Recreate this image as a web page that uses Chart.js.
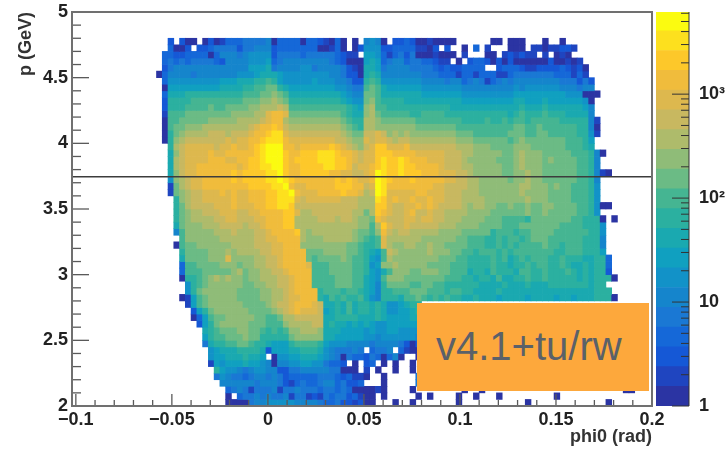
<!DOCTYPE html>
<html>
<head>
<meta charset="utf-8">
<title>p vs phi0</title>
<script src="https://cdn.jsdelivr.net/npm/chart.js@4/dist/chart.umd.min.js"></script>
<style>
    body { margin: 0; background: #fff; }
    #wrap { position: relative; width: 726px; height: 449px; overflow: hidden; }
    #heat { position: absolute; left: 0; top: 0; }
    #bar { position: absolute; left: 656px; top: 0; }
    #tag {
        position: absolute; left: 417px; top: 303px; width: 232px; height: 88px;
        background: #fda83c; color: #5b6169;
        font: 40px "Liberation Sans", Arial, sans-serif; line-height: 86px;
        padding-left: 19px; box-sizing: border-box;
    }
</style>
</head>
<body>
<div id="wrap">
    <canvas id="heat" width="726" height="449"></canvas>
    <canvas id="bar" width="70" height="449"></canvas>
    <div id="tag">v4.1+tu/rw</div>
</div>
<script>
// histogram binning
const phiStart = -0.07;
const phiStep = 0.003;
const pTopRow = 4.75;
const pStep = 0.05;

// colour band of every cell, top row first, 10 columns per group, '.' = empty bin
const heatRows = [
    "......2.20 0.02013334 4445033330 3321030.0. 5650.22320 010000.... ..00.000.. .0..0.....",
    "......3002 .223444424 4555233333 3300130.02 6662233331 102.2..0.3 .1...000.1 1011221...",
    ".....33223 3330355545 6666244443 444443211. 7763134240 001000.1.. .00.121211 .1.010....",
    ".....34343 4444325555 6667345555 5555432000 7873455344 33211.0.23 3202020000 00200101..",
    ".....24555 5555555555 7778455556 6455554210 8874555544 4432322333 3..2333211 222232120.",
    "....035555 4555555566 6788876666 6666554220 8985555555 4443331331 3331134444 444333131.",
    ".....36666 6666677788 899a976666 6766655422 9a96666666 5555455345 4134545555 5555444242",
    ".....07777 7777788889 9aabb98777 7777766544 aba8777777 6666666555 5555556566 6666555455",
    ".....38889 999999999a aabbcba888 8888887655 bba8888888 7777777666 6666667777 7777766600 0",
    ".....29999 aaaaaaaaab bbccdcb999 9999998766 bca9999888 8888888777 7777778877 7877777760",
    ".....2999a aaabaabbbb ccdddedaaa aaaaaaa987 cdaa999999 9999988888 8888888988 8988888875",
    ".....1aaab bbbbbbbccc cddfggfbbb bbbbbba988 cdbaaaaa99 aaaa999999 9999989a99 9a99988885",
    ".....0aabb bbbcccccdd ddefggdccc ccccccba99 ddcbbbbbba aaaaaaa999 9a99a9aa9a aaaa999995 1",
    ".....0abbc ccdddddddd efgghgeddd ddddddcba9 ddcccccccb bbbbbbaaaa aaaaaabbaa baaaaaa995 0",
    ".....09bcd dddeeedeee fgghiifeee eeeeeedcbb eefecdcdcc ccccccbbba aaaaabbbaa bbaaaaa996 1",
    ".....09cde eeeeeefeff gghiiigfff fffffeedcc feffedeedd ddddddcccb bbbbbabcbb bbbbbaaa97",
    "......9def ffffeffgff ghijjjggfg gggghgfedc efhhfffgee eeeeeedddc ccbbbbcccb bbbbbaaa98",
    "......8cef fffgffgggg ghijjjhggh hhiiihggfe ffhhhggggf ffffeeeddc ccccbbcdcc cbbbbbaaa9 50",
    "......8def fffgggffgg hhijjjhghh hhiiihhgfe ffhihhihgg gfffeeedcc cccbbbcdcc cbcbbbbaa9 5",
    "......8def fgggggggfg hhiijjhggh hhhiihhgef fghihhihhg gggfeeeddc ccccbbcdcc cbbbbbbaa9 5",
    "......8cef fgggggghgh hhhiijhggh hhhhggffee fgjihhihhh gggfffeedc ccccbbccdc cbbbbbbaa9 510",
    "......6cde ffggggghgh hhhiijihgg ggggghghgf fgjihggghg ggggffeedd cccccbccdc cbbbbbbaa9 5",
    "......1bde ffgggggggg hhhhiijgff ggggghhhgg efjiggggg g ggffeeeedd cccccccddc ccbcbbaaa9 6",
    "......1bcd eefffgfgff ggghhiijgf ffgggghggf dejifffffg gfffeeeddd cccccccdcc ccbbbbaaa9 6",
    ".......9cd eefffffgff ggghhiiife ffffffeeed ddihfgffgf fgffeeeddd dcccccccdc ccbbbbaaa9 6",
    ".......9bd eeeefffgff fgghhiihee eeeeeeeeed ddhhfeeffg fgfeeeedcd dccbbcbbcb bccbbbbaa9 600",
    ".......9bc ddeeefffee ffgggghhfd deeeeeeedd bdhgfeefge efeeddddcc ccbbbbbbcb bcbbbbbaa9 6",
    ".......9bc ddddeeffee effggghhdd ddeeedeedc cbgfeeeffe ffeedddccc cbbbaaaa9b bbbbbbaa99 90.0",
    ".......8bc ccdddeeeed eefggghhdd dddddddddc cadhfeefee eeedddcccc bbbbaaabbb bbbbaaaa99 96",
    ".......5ac ccccdddedd deefgggghd cdddddddcb bacgedeedd dddccccbbb bb9aaa9aab bbbaaaaaa9 96",
    "........ac cccccddddd deeffggggd cccdddddcb a9afdddddd ccccccbbaa a99a9aa9ab bbaaaaaa99 95",
    ".......0ab bccccccddd deeeffgggc cccccccbba 99afdccddc cdccbbbbaa a99a9a9aaa abaa9aaa99 95",
    "........9b bbbcccdcdd ddeeffgggg bbbccccbba 987aedcccc cdcccbbaa9 aaa9a9aaaa aaa99aaa99 97",
    "........8b bbbcccfccc cddeefgggg babbbbcbaa 976adccccc cccbbbaa99 99a9a89a9a aa99a99988 993",
    "........3a abbbbcccbc cddeefgggg faaabbbbaa 967ccdcccc cbbbbaaa99 99a99899a9 aa99a98898 993",
    "........3a aabbbbbcdb ccddeefggg gaaabbbbaa 9768acccbb cccbbaaa89 98a9998aa9 9a999a9898 992",
    "........09 9abcdcdccb ccdddeefgg gaaaabbbaa 876acccbbb bbbbaaa998 998a8899a9 9a99999898 9990",
    ".........6 9abccccccb bccddeefgg gaaaabbbaa 8759bbbbaa bbaa999999 8888988898 8899999998 99",
    ".........6 9bccccccbb bbccddefgg gg9aaa9aa9 87599aaabb baaa9aa998 8889888888 8888888888 999",
    "........01 7abcccccbb bbccddeffg gg98a9a99a 8659998aab a9a9a99889 8887888878 8887887888 9990",
    ".........1 7abccccccb bbbcdeefgg gfe8898a89 9898667899",
    ".......... 279bcccccc bbbbcdefgf ffe7898a89 9898667789",
    ".......... 037abbcccc cbbaabddee eee8899998 8898777788",
    ".......... .279bccccc bbbaaacddd dee8988787 8766777777",
    ".......... ..89abbbcc bba9a9accd ddc8887777 6766776666",
    ".......... ..79aabbbc bb99999bcc ccc8877777 6656666665",
    ".......... ..4899aabb a9987779aa aa97666555 5455554202",
    ".......... ...6788899 9982777889 9986544454 .3445.3100",
    ".......... ...6778889 887.066778 8876540433 2430350..0",
    ".......... ...1767778 7765055667 7664332.0. 23.0.0..0.",
    ".......... ....976654 5665522445 555544000. 1.0..0..0.",
    ".......... ....465443 4554542333 3344432311 0..0.....4",
    ".......... .....55555 5455542134 3345534223 ...0.....4",
    ".......... ......3454 1444514454 4434434300 0010....0. .......0.. 0......... .......... .....00",
    ".......... ......0.34 4545445144 1214344231 00.0.....0 .0....0..0 ...0...... ...0......",
    ".......... ......0000 4556666655 5543342212 00...0..0. ......0... ........0. .......... ..0"
];

// palette, bottom of the colour bar first
const bandColors = [
    "#2b34a3", "#1f45c0", "#1558d6", "#1568d8", "#1a78d4", "#1585cc", "#1292c8",
    "#10a0c0", "#1aa9b0", "#2bb0a0", "#45b592", "#6bbb85", "#8fbc78", "#aebb6b",
    "#c8b860", "#ddb84e", "#f0bc3c", "#fdc82a", "#fde01e", "#fbfb10"
];
const bandEdges = [1, 1.55, 2.39, 3.71, 5.74, 8.89, 13.8, 21.3, 33, 51.2, 79.3, 123, 190, 295, 456, 707, 1095, 1697, 2630, 4075, 6170];

const xTicks = [-0.1, -0.05, 0, 0.05, 0.1, 0.15, 0.2];
const xTickLabels = ["\u22120.1", "\u22120.05", "0", "0.05", "0.1", "0.15", "0.2"];
const xMinor = [-0.09, -0.08, -0.07, -0.06, -0.04, -0.03, -0.02, -0.01, 0.01, 0.02, 0.03, 0.04, 0.06, 0.07, 0.08, 0.09, 0.11, 0.12, 0.13, 0.14, 0.16, 0.17, 0.18, 0.19];
const yTicks = [2, 2.5, 3, 3.5, 4, 4.5, 5];
const yTickLabels = ["2", "2.5", "3", "3.5", "4", "4.5", "5"];
const yMinor = [2.1, 2.2, 2.3, 2.4, 2.6, 2.7, 2.8, 2.9, 3.1, 3.2, 3.3, 3.4, 3.6, 3.7, 3.8, 3.9, 4.1, 4.2, 4.3, 4.4, 4.6, 4.7, 4.8, 4.9];
const zTicks = [1, 10, 100, 1000];
const zTickLabels = ["1", "10", "10\u00b2", "10\u00b3"];
const zMinor = [2, 3, 4, 5, 6, 7, 8, 9, 20, 30, 40, 50, 60, 70, 80, 90, 200, 300, 400, 500, 600, 700, 800, 900, 2000, 3000, 4000, 5000, 6000];

const cutX = [-0.102, 0.2];
const cutP = [3.745, 3.745];

const labelFont = { family: "'Liberation Sans', Arial, sans-serif", size: 18, weight: "bold" };

function bandOf(ch) {
    return parseInt(ch, 36);
}

// one bar dataset per row of the histogram
function buildRows() {
    return heatRows.map(function(row, r) {
        const cells = row.replace(/ /g, "");
        const low = pTopRow - r * pStep;
        const data = [];
        const colors = [];
        for (let c = 0; c < cells.length; c++) {
            if (cells[c] === ".") continue;
            data.push({ x: phiStart + (c + 0.5) * phiStep, y: [low, low + pStep] });
            colors.push(bandColors[bandOf(cells[c])]);
        }
        return {
            type: "bar",
            data: data,
            backgroundColor: colors,
            borderWidth: 0,
            grouped: false,
            barPercentage: 1,
            categoryPercentage: 1,
            order: 2
        };
    });
}

function line(ctx, x1, y1, x2, y2) {
    ctx.beginPath();
    ctx.moveTo(x1, y1);
    ctx.lineTo(x2, y2);
    ctx.stroke();
}

// tick labels would otherwise push the plot area in
function noPadding(axis) {
    axis.paddingTop = 0;
    axis.paddingBottom = 0;
    axis.paddingLeft = 0;
    axis.paddingRight = 0;
}

// ticks sit inside the frame, which the axes can't do on their own
const frameTicks = {
    id: "frameTicks",
    afterDraw(chart) {
        const ctx = chart.ctx;
        const a = chart.chartArea;
        ctx.save();
        ctx.strokeStyle = "#5a5a5a";
        ctx.lineWidth = 1.3;
        yTicks.forEach(v => { const p = chart.scales.y.getPixelForValue(v); line(ctx, a.left, p, a.left + 17, p); });
        yMinor.forEach(v => { const p = chart.scales.y.getPixelForValue(v); line(ctx, a.left, p, a.left + 9, p); });
        xTicks.forEach(v => { const p = chart.scales.x.getPixelForValue(v); line(ctx, p, a.bottom, p, a.bottom - 12); });
        xMinor.forEach(v => { const p = chart.scales.x.getPixelForValue(v); line(ctx, p, a.bottom, p, a.bottom - 6); });
        ctx.strokeStyle = "#707070";
        ctx.lineWidth = 2;
        ctx.strokeRect(a.left, a.top, a.right - a.left, a.bottom - a.top);
        ctx.restore();
    }
};

const barTicks = {
    id: "barTicks",
    afterDraw(chart) {
        const ctx = chart.ctx;
        const a = chart.chartArea;
        ctx.save();
        ctx.strokeStyle = "#333";
        ctx.lineWidth = 1;
        line(ctx, a.right, a.top, a.right, a.bottom);
        zTicks.forEach(v => { const p = chart.scales.y.getPixelForValue(v); line(ctx, a.right, p, a.right - 17, p); });
        zMinor.forEach(v => { const p = chart.scales.y.getPixelForValue(v); line(ctx, a.right, p, a.right - 8, p); });
        ctx.restore();
    }
};

document.addEventListener("DOMContentLoaded", function() {
    const datasets = buildRows();
    datasets.push({
        type: "line",
        data: cutX.map((x, i) => ({ x: x, y: cutP[i] })),
        borderColor: "#3c3c3c",
        borderWidth: 1.4,
        pointRadius: 0,
        order: 1
    });

    new Chart(document.getElementById("heat"), {
        type: "bar",
        data: { datasets: datasets },
        options: {
            responsive: false,
            animation: false,
            events: [],
            layout: { padding: { top: 12, right: 74 } },
            plugins: { legend: { display: false }, tooltip: { enabled: false } },
            scales: {
                x: {
                    type: "linear",
                    offset: false,
                    min: cutX[0],
                    max: cutX[1],
                    grid: { display: false, drawTicks: false },
                    border: { display: false },
                    afterBuildTicks: axis => { axis.ticks = xTicks.map(v => ({ value: v })); },
                    afterFit: axis => { axis.height = 43; noPadding(axis); },
                    ticks: {
                        color: "#222",
                        font: labelFont,
                        padding: 3,
                        maxRotation: 0,
                        autoSkip: false,
                        callback: v => xTickLabels[xTicks.indexOf(v)]
                    },
                    title: {
                        display: true,
                        text: "phi0 (rad)",
                        align: "end",
                        color: "#333",
                        font: labelFont,
                        padding: { top: 0, bottom: 1 }
                    }
                },
                y: {
                    min: 2,
                    max: 5,
                    grid: { display: false, drawTicks: false },
                    border: { display: false },
                    afterBuildTicks: axis => { axis.ticks = yTicks.map(v => ({ value: v })); },
                    afterFit: axis => { axis.width = 72; noPadding(axis); },
                    ticks: {
                        color: "#222",
                        font: labelFont,
                        padding: 4,
                        autoSkip: false,
                        callback: v => yTickLabels[yTicks.indexOf(v)]
                    },
                    title: {
                        display: true,
                        text: "p (GeV)",
                        align: "end",
                        color: "#333",
                        font: labelFont,
                        padding: { top: 15, bottom: 0 }
                    }
                }
            }
        },
        plugins: [frameTicks]
    });

    new Chart(document.getElementById("bar"), {
        type: "bar",
        data: {
            labels: ["z"],
            datasets: bandColors.map((color, k) => ({
                data: [[bandEdges[k], bandEdges[k + 1]]],
                backgroundColor: color,
                borderWidth: 0,
                grouped: false,
                barPercentage: 1,
                categoryPercentage: 1
            }))
        },
        options: {
            responsive: false,
            animation: false,
            events: [],
            layout: { padding: { top: 12, bottom: 43 } },
            plugins: { legend: { display: false }, tooltip: { enabled: false } },
            scales: {
                x: { display: false },
                y: {
                    type: "logarithmic",
                    position: "right",
                    min: bandEdges[0],
                    max: bandEdges[bandEdges.length - 1],
                    grid: { display: false, drawTicks: false },
                    border: { display: false },
                    afterBuildTicks: axis => { axis.ticks = zTicks.map(v => ({ value: v })); },
                    afterFit: axis => { axis.width = 37; noPadding(axis); },
                    ticks: {
                        color: "#222",
                        font: labelFont,
                        padding: 10,
                        autoSkip: false,
                        callback: v => zTickLabels[zTicks.indexOf(v)]
                    }
                }
            }
        },
        plugins: [barTicks]
    });
});
</script>
</body>
</html>
